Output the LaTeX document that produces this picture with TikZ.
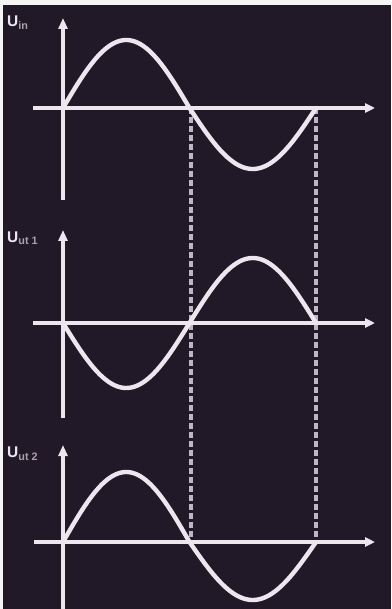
\documentclass[tikz,border=0pt]{standalone}
\usepackage{fontspec}
\setmainfont{Liberation Sans}
\usetikzlibrary{arrows.meta}
\definecolor{bgdark}{RGB}{33,24,40}
\definecolor{curvewhite}{RGB}{236,230,238}
\definecolor{dashgray}{RGB}{190,182,196}
\definecolor{subgray}{RGB}{170,160,172}
\tikzset{
  axisline/.style={line width=4.4pt, draw=curvewhite, -{Triangle[length=10pt,width=9pt]}},
  yaxisline/.style={line width=4pt, draw=curvewhite, -{Triangle[length=11pt,width=9pt]}},
  wave/.style={line width=4.4pt, draw=curvewhite, line cap=round},
  guide/.style={line width=3.8pt, draw=dashgray, dash pattern=on 6pt off 3pt},
  lab/.style={text=curvewhite, inner sep=0pt, font=\bfseries\fontsize{15.5}{15.5}\selectfont, anchor=west},
  sublab/.style={text=subgray}
}
\begin{document}
\begin{tikzpicture}[x=1pt,y=-1pt]
\fill[white!92!gray] (0,0) rectangle (391,609);
\fill[bgdark] (3,5) rectangle (391,609);
\useasboundingbox (0,0) rectangle (391,609);

% guide lines
\coordinate (g1t) at (191,108);
\coordinate (g1b) at (191,542);
\coordinate (g2t) at (316,108);
\coordinate (g2b) at (316,542);
\draw[guide] (g1t) -- (g1b);
\draw[guide] (g2t) -- (g2b);

% top graph
\coordinate (y1b) at (63,200);
\coordinate (y1t) at (63,18);
\coordinate (x1l) at (33,108);
\coordinate (x1r) at (375,108);
\draw[yaxisline] (y1b) -- (y1t);
\draw[axisline] (x1l) -- (x1r);
\draw[wave] plot[domain=0:180,samples=50,variable=\t] ({63+0.70278*\t},{108-68*sin(\t)});
\draw[wave] plot[domain=180:360,samples=50,variable=\t] ({63+0.70278*\t},{108-61*sin(\t)});
\node[lab] (l1) at (7,23) {U\textsubscript{\color{subgray}in}};

% middle graph
\coordinate (y2b) at (63,418);
\coordinate (y2t) at (63,230);
\coordinate (x2l) at (33,323);
\coordinate (x2r) at (375,323);
\draw[yaxisline] (y2b) -- (y2t);
\draw[axisline] (x2l) -- (x2r);
\draw[wave] plot[domain=0:360,samples=90,variable=\t] ({63+0.70278*\t},{323+65*sin(\t)});
\node[lab] (l2) at (7,238) {U\textsubscript{\color{subgray}ut 1}};

% bottom graph
\coordinate (y3b) at (63,612);
\coordinate (y3t) at (63,445);
\coordinate (x3l) at (34,542);
\coordinate (x3r) at (375,542);
\draw[yaxisline] (y3b) -- (y3t);
\draw[axisline] (x3l) -- (x3r);
\draw[wave] plot[domain=0:180,samples=50,variable=\t] ({63+0.70278*\t},{542-70*sin(\t)});
\draw[wave] plot[domain=180:360,samples=50,variable=\t] ({63+0.70278*\t},{542-58*sin(\t)});
\node[lab] (l3) at (7,454) {U\textsubscript{\color{subgray}ut 2}};
\end{tikzpicture}
\end{document}
